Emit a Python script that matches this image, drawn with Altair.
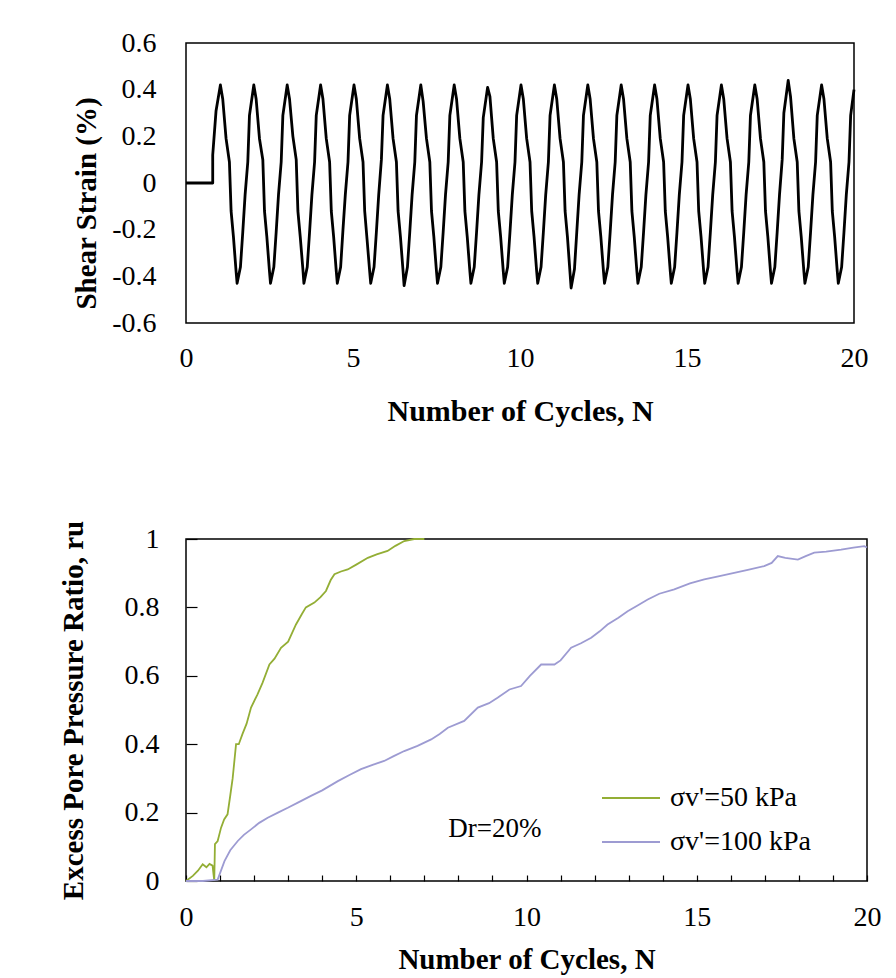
import altair as alt
import pandas as pd

FONT = "Liberation Serif"

# ---------------- Top panel: shear strain history ----------------
# start of record (N, strain %)
lead_N = [0.0, 0.80, 0.80, 0.90]
lead_strain = [0.0, 0.0, 0.12, 0.31]
# positions inside each loading cycle (fraction of a cycle after cycle k)
cycle_phase = [0.03, 0.10, 0.20, 0.30, 0.35, 0.42, 0.50, 0.53, 0.63, 0.70, 0.77, 0.85, 0.90]
# strain values of each cycle k = 1..19, read at the phases above
cycle_strain = [
    [0.42, 0.36, 0.19, 0.09, -0.12, -0.23, -0.38, -0.43, -0.36, -0.21, -0.05, 0.09, 0.29],
    [0.42, 0.36, 0.19, 0.10, -0.12, -0.23, -0.38, -0.43, -0.36, -0.21, -0.05, 0.09, 0.29],
    [0.42, 0.36, 0.20, 0.10, -0.12, -0.23, -0.37, -0.43, -0.36, -0.21, -0.05, 0.09, 0.29],
    [0.42, 0.36, 0.19, 0.09, -0.12, -0.23, -0.38, -0.43, -0.36, -0.20, -0.05, 0.09, 0.29],
    [0.42, 0.36, 0.19, 0.09, -0.12, -0.24, -0.38, -0.43, -0.36, -0.21, -0.05, 0.10, 0.29],
    [0.42, 0.36, 0.19, 0.09, -0.12, -0.23, -0.38, -0.44, -0.36, -0.21, -0.05, 0.09, 0.29],
    [0.42, 0.35, 0.19, 0.09, -0.12, -0.23, -0.38, -0.43, -0.36, -0.21, -0.05, 0.09, 0.29],
    [0.42, 0.36, 0.19, 0.09, -0.12, -0.23, -0.38, -0.43, -0.36, -0.21, -0.05, 0.09, 0.28],
    [0.41, 0.37, 0.19, 0.09, -0.12, -0.23, -0.38, -0.43, -0.36, -0.21, -0.05, 0.09, 0.29],
    [0.42, 0.36, 0.19, 0.09, -0.12, -0.23, -0.38, -0.43, -0.36, -0.21, -0.05, 0.09, 0.29],
    [0.42, 0.36, 0.19, 0.09, -0.12, -0.23, -0.39, -0.45, -0.37, -0.21, -0.05, 0.09, 0.29],
    [0.42, 0.36, 0.19, 0.09, -0.12, -0.23, -0.38, -0.43, -0.36, -0.21, -0.05, 0.09, 0.29],
    [0.42, 0.36, 0.19, 0.09, -0.12, -0.23, -0.38, -0.43, -0.36, -0.21, -0.05, 0.09, 0.29],
    [0.42, 0.36, 0.19, 0.09, -0.12, -0.23, -0.38, -0.43, -0.36, -0.21, -0.05, 0.09, 0.29],
    [0.42, 0.36, 0.19, 0.09, -0.12, -0.23, -0.38, -0.43, -0.36, -0.21, -0.05, 0.09, 0.29],
    [0.42, 0.36, 0.19, 0.09, -0.12, -0.23, -0.38, -0.43, -0.36, -0.21, -0.05, 0.09, 0.29],
    [0.42, 0.36, 0.19, 0.09, -0.12, -0.23, -0.38, -0.43, -0.36, -0.21, -0.05, 0.10, 0.30],
    [0.44, 0.37, 0.19, 0.09, -0.12, -0.23, -0.38, -0.43, -0.36, -0.21, -0.05, 0.09, 0.29],
    [0.42, 0.36, 0.19, 0.09, -0.12, -0.23, -0.38, -0.43, -0.36, -0.21, -0.05, 0.09, 0.29],
]
tail_N = [20.0]
tail_strain = [0.40]

# ---------------- Bottom panel: excess pore pressure ratio ----------------
series_names = ["σv'=50 kPa", "σv'=100 kPa"]
series_colors = ["#93ae35", "#9d9bd2"]

green_N = [0, 0.2, 0.35, 0.49, 0.6, 0.69, 0.78, 0.83, 0.85, 0.93, 1.03, 1.12, 1.22, 1.3,
           1.37, 1.47, 1.55, 1.66, 1.78, 1.91, 2.1, 2.25, 2.45, 2.6, 2.79, 3.0, 3.23, 3.4,
           3.52, 3.77, 3.95, 4.11, 4.25, 4.36, 4.55, 4.75, 5.0, 5.34, 5.6, 5.92, 6.15, 6.41,
           6.7, 7.0]
green_ru = [0, 0.015, 0.03, 0.049, 0.04, 0.05, 0.045, 0.0, 0.108, 0.117, 0.156, 0.18, 0.195,
            0.25, 0.30, 0.40, 0.40, 0.43, 0.46, 0.507, 0.546, 0.58, 0.633, 0.65, 0.682, 0.70,
            0.75, 0.78, 0.80, 0.814, 0.83, 0.848, 0.88, 0.897, 0.905, 0.911, 0.925, 0.945,
            0.955, 0.965, 0.98, 0.994, 1.0, 1.0]

purple_N = [0, 0.5, 0.93, 1.13, 1.3, 1.52, 1.7, 1.91, 2.15, 2.40, 2.7, 2.99, 3.3, 3.67, 4.0,
            4.46, 4.8, 5.14, 5.5, 5.82, 6.1, 6.41, 6.8, 7.2, 7.45, 7.69, 8.17, 8.57, 8.9, 9.15,
            9.5, 9.84, 10.1, 10.43, 10.82, 11.0, 11.31, 11.6, 11.9, 12.15, 12.38, 12.7, 12.97,
            13.25, 13.56, 13.9, 14.34, 14.8, 15.22, 15.6, 16.1, 16.5, 16.98, 17.2, 17.38, 17.6,
            17.97, 18.2, 18.45, 18.8, 19.24, 19.6, 19.92, 20.0]
purple_ru = [0, 0.0, 0.004, 0.058, 0.09, 0.117, 0.135, 0.151, 0.17, 0.185, 0.2, 0.214, 0.23,
             0.249, 0.265, 0.292, 0.31, 0.327, 0.34, 0.351, 0.365, 0.38, 0.395, 0.414, 0.43,
             0.448, 0.468, 0.507, 0.52, 0.536, 0.56, 0.57, 0.6, 0.633, 0.633, 0.645, 0.682,
             0.695, 0.711, 0.73, 0.75, 0.77, 0.789, 0.805, 0.823, 0.84, 0.853, 0.87, 0.882,
             0.89, 0.901, 0.91, 0.921, 0.93, 0.95, 0.945, 0.940, 0.95, 0.96, 0.963, 0.969,
             0.975, 0.979, 0.975]

annotation_text = ["Dr=20%"]
annotation_N = [7.7]
annotation_ru = [0.152]

# tick values
x_major = [0, 5, 10, 15, 20]
x_minor = list(range(21))
strain_ticks = [-0.6, -0.4, -0.2, 0, 0.2, 0.4, 0.6]
ru_ticks = [0, 0.2, 0.4, 0.6, 0.8, 1]

# ---------------- build tables ----------------
rows = []
for n, s in zip(lead_N, lead_strain):
    rows.append((n, s))
for k, vals in enumerate(cycle_strain, start=1):
    for p, s in zip(cycle_phase, vals):
        rows.append((k + p, s))
for n, s in zip(tail_N, tail_strain):
    rows.append((n, s))
shear_df = pd.DataFrame(rows, columns=["N", "strain"])
shear_df["i"] = range(len(shear_df))

ru_rows = []
for n, r in zip(green_N, green_ru):
    ru_rows.append((series_names[0], n, r))
for n, r in zip(purple_N, purple_ru):
    ru_rows.append((series_names[1], n, r))
ru_df = pd.DataFrame(ru_rows, columns=["series", "N", "ru"])
ru_df["i"] = range(len(ru_df))

ann_df = pd.DataFrame({"N": annotation_N, "ru": annotation_ru, "t": annotation_text})

xscale = alt.Scale(domain=[0, 20], nice=False, zero=False)

label_expr = "'' + datum.value"

# ---------------- top chart ----------------
top = alt.Chart(shear_df).mark_line(
    color="black", strokeWidth=2.8, strokeJoin="round"
).encode(
    x=alt.X("N:Q", scale=xscale,
            axis=alt.Axis(values=x_major, title="Number of Cycles, N", ticks=False,
                          domain=False, grid=False, labelPadding=21, labelFontSize=28,
                          labelFlush=False, titleFontSize=30, titleFontWeight="bold",
                          titleY=88, titleBaseline="middle", labelExpr=label_expr)),
    y=alt.Y("strain:Q", scale=alt.Scale(domain=[-0.6, 0.6], nice=False, zero=False),
            axis=alt.Axis(values=strain_ticks, title="Shear Strain (%)", ticks=False,
                          domain=False, grid=False, labelPadding=30, labelFontSize=28,
                          labelFlush=False, titleFontSize=29, titleFontWeight="bold",
                          titleX=-100, titleY=160, titleBaseline="middle", titleAngle=-90,
                          labelExpr=label_expr)),
    order="i:Q",
).properties(width=668, height=280)

# ---------------- bottom chart ----------------
lines = alt.Chart(ru_df).mark_line(strokeWidth=1.8).encode(
    x=alt.X("N:Q", scale=xscale,
            axis=alt.Axis(values=x_major, title="Number of Cycles, N", ticks=False,
                          domain=False, grid=False, labelPadding=22, labelFontSize=28,
                          labelFlush=False, titleFontSize=29, titleFontWeight="bold",
                          titleY=78, titleBaseline="middle", labelExpr=label_expr,
                          orient="bottom")),
    y=alt.Y("ru:Q", scale=alt.Scale(domain=[0, 1], nice=False, zero=False),
            axis=alt.Axis(values=ru_ticks, title="Excess Pore Pressure Ratio, ru",
                          ticks=False, domain=False, grid=False, labelPadding=27,
                          labelFontSize=28, labelFlush=False, titleFontSize=29,
                          titleFontWeight="bold", titleX=-113, titleY=171,
                          titleBaseline="middle", titleAngle=-90, labelExpr=label_expr,
                          orient="left")),
    color=alt.Color("series:N", scale=alt.Scale(domain=series_names, range=series_colors),
                    legend=alt.Legend(title=None, orient="none", legendX=415, legendY=229,
                                      symbolType="stroke", symbolSize=3364,
                                      symbolStrokeWidth=2, labelFontSize=28,
                                      labelFont=FONT, labelOffset=9, rowPadding=-3,
                                      labelColor="black", padding=0)),
    order="i:Q",
)

ann = alt.Chart(ann_df).mark_text(
    align="left", baseline="middle", font=FONT, fontSize=27, color="black"
).encode(
    x=alt.X("N:Q", scale=xscale,
            axis=alt.Axis(orient="bottom", offset=-6, values=x_minor, tickSize=6,
                          ticks=True, labels=False, domain=False, grid=False, title=None,
                          tickColor="black", tickWidth=1.2, tickOpacity=1)),
    y=alt.Y("ru:Q", scale=alt.Scale(domain=[0, 1], nice=False, zero=False),
            axis=alt.Axis(orient="left", offset=-11, values=ru_ticks, tickSize=11,
                          ticks=True, labels=False, domain=False, grid=False, title=None,
                          tickColor="black", tickWidth=1.2, tickOpacity=1)),
    text="t:N",
)

bottom = alt.layer(lines, ann).resolve_axis(x="independent", y="independent").properties(
    width=681, height=342
)

chart = alt.vconcat(top, bottom, spacing=216, bounds="flush").resolve_legend(
    color="independent"
).properties(
    padding={"left": 50, "top": 20, "right": 5, "bottom": 5},
    background="white",
).configure_view(
    stroke="black", strokeWidth=1.5
).configure_axis(
    labelFont=FONT, titleFont=FONT, labelColor="black", titleColor="black"
).configure_legend(
    labelFont=FONT, labelColor="black"
)

chart.save("out.html", embed_options={"renderer": "svg", "actions": False})
